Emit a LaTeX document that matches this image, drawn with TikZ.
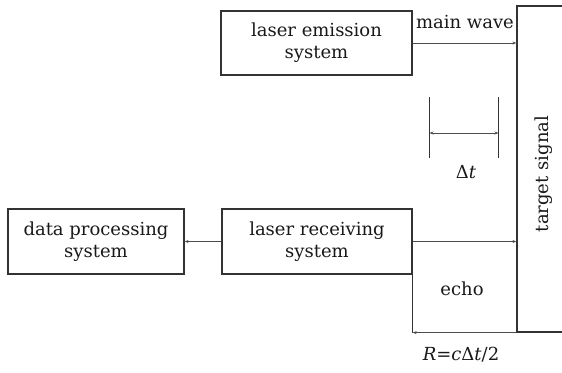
\documentclass[tikz,border=0pt]{standalone}
\usepackage{fontspec}
\setmainfont{DejaVu Serif}
\usetikzlibrary{arrows.meta,positioning}
\begin{document}
\begin{tikzpicture}[x=1pt,y=-1pt,
  every node/.style={font=\fontsize{18}{22}\selectfont, text=black!90},
  blockbox/.style={draw=black!80, line width=1.2pt, align=center, inner sep=0pt},
  conn/.style={draw=black!70, line width=0.9pt},
  tick/.style={draw=black!80, line width=1.1pt},
  tip/.style={-{Stealth[length=4pt,width=3pt]}},
  lbl/.style={inner sep=0pt}
]
\useasboundingbox (0,0) rectangle (562,372);

% blocks
\node[blockbox, minimum width=191pt, minimum height=64pt] (emit) at (316.5,43) {laser emission\\system};
\node[blockbox, minimum width=190pt, minimum height=65pt] (recv) at (317,241.5) {laser receiving\\system};
\node[blockbox, minimum width=176pt, minimum height=65pt] (data) at (96,241.5) {data processing\\system};
\node[blockbox, minimum width=50pt, minimum height=326pt] (target) at (542,169) {};
\node[lbl, rotate=90] (tlabel) at (544,174) {target signal};

% main wave and returned signal
\draw[conn, tip] (emit.east) -- (target.west |- emit.east);
\node[lbl] (mw) at (465,22) {main wave};
\draw[conn, tip] (recv.east) -- (target.west |- recv.east);
\draw[conn, tip] (recv.west) -- (data.east);

% echo path
\coordinate (ebot) at (recv.south east |- target.south west);
\draw[line width=1.2pt, draw=black!80] (recv.south east) -- (ebot);
\draw[conn, tip] (target.south west) -- (ebot);
\node[lbl] (echo) at (462,289) {echo};
\node[lbl] (range) at (461,355) {\textit{R}=\textit{c}Δ\textit{t}/2};

% time interval marker
\coordinate (ta) at (429.5,97);
\coordinate (tb) at (498.5,97);
\coordinate (ta2) at (429.5,158);
\coordinate (tb2) at (498.5,158);
\draw[tick] (ta) -- (ta2);
\draw[tick] (tb) -- (tb2);
\draw[conn, {Stealth[length=4pt,width=3pt]}-{Stealth[length=4pt,width=3pt]}] (429.5,133) -- (498.5,133);
\node[lbl] (dt) at (466,172) {Δ\textit{t}};
\end{tikzpicture}
\end{document}
